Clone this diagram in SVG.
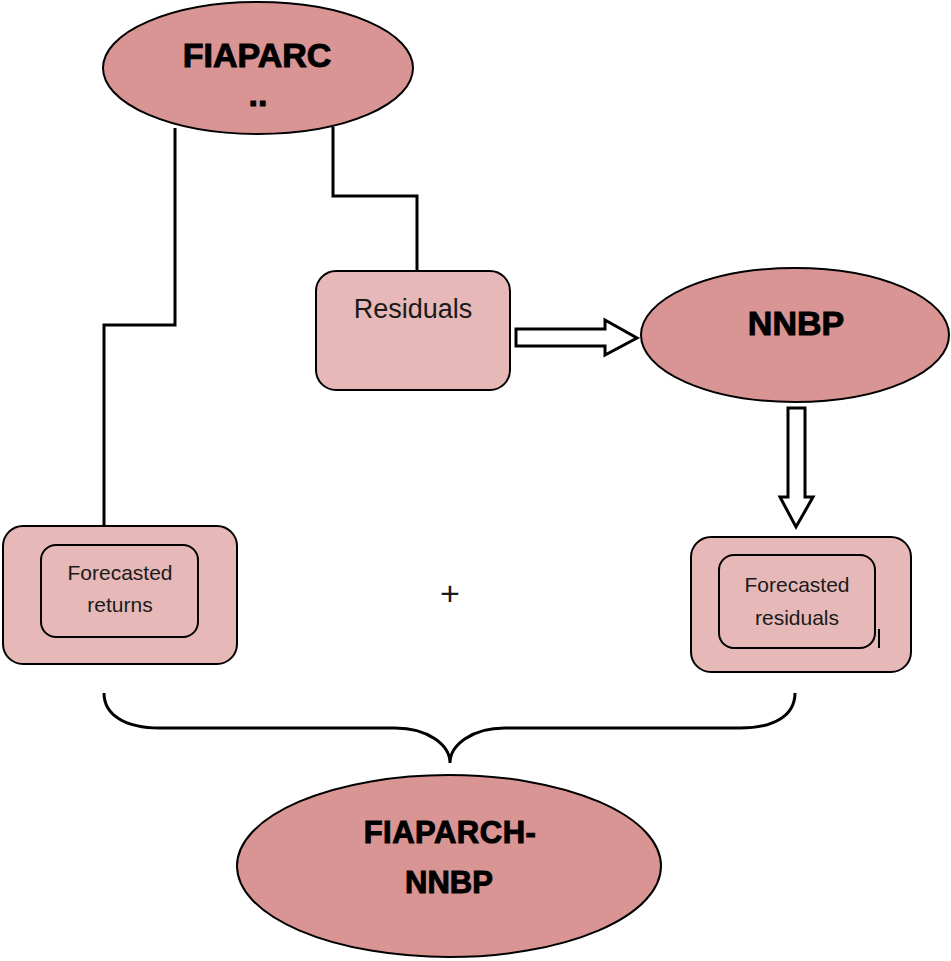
<svg xmlns="http://www.w3.org/2000/svg" width="951" height="961" viewBox="0 0 951 961">
<style>
.ell{fill:#D99594;stroke:#000;stroke-width:2}
.box{fill:#E6B8B7;stroke:#000;stroke-width:2}
.bold{font-family:"Liberation Sans",Arial,sans-serif;font-weight:bold;fill:#000;stroke:#000;stroke-width:1;text-anchor:middle}
.reg{font-family:"Liberation Sans",Arial,sans-serif;fill:#1a1a1a;text-anchor:middle}
.line{fill:none;stroke:#000;stroke-width:3}
.blk{fill:#fff;stroke:#000;stroke-width:3;stroke-linejoin:miter}
</style>
<rect width="951" height="961" fill="#fff"/>
<g id="connectors">
<polyline class="line" points="175,128 175,325 104,325 104,525"/>
<polyline class="line" points="333,127 333,196 417,196 417,271"/>
<polygon class="blk" points="516,329 605,329 605,320 637,338 605,355 605,346 516,346"/>
<polygon class="blk" points="788,408 805,408 805,497 813,497 796,527 780,497 788,497"/>
<path class="line" d="M104,693 C104,715 125,728 160,728 L395,728 C428,728 450,745 450,763 C450,745 472,728 505,728 L740,728 C775,728 795,715 795,693"/>
</g>
<g id="fiaparc">
<ellipse class="ell" cx="258" cy="68" rx="155" ry="66"/>
<text class="bold" x="257" y="67" font-size="34">FIAPARC</text>
<text class="bold" x="258" y="106" font-size="34">..</text>
</g>
<g id="residuals">
<rect class="box" x="316" y="271" width="194" height="119" rx="20"/>
<text class="reg" x="413" y="318" font-size="27">Residuals</text>
</g>
<g id="nnbp">
<ellipse class="ell" cx="795" cy="335" rx="154" ry="67"/>
<text class="bold" x="796" y="335" font-size="34">NNBP</text>
</g>
<g id="forecasted-returns">
<rect class="box" x="3" y="526" width="234" height="138" rx="20"/>
<rect class="box" x="41" y="545" width="157" height="92" rx="15"/>
<text class="reg" x="120" y="580" font-size="21">Forecasted</text>
<text class="reg" x="120" y="612" font-size="21">returns</text>
</g>
<g id="plus">
<text class="reg" x="450" y="605" font-size="34">+</text>
</g>
<g id="forecasted-residuals">
<rect class="box" x="691" y="537" width="220" height="135" rx="20"/>
<rect class="box" x="719" y="555" width="156" height="93" rx="15"/>
<text class="reg" x="797" y="592" font-size="21">Forecasted</text>
<text class="reg" x="797" y="625" font-size="21">residuals</text>
<line x1="879" y1="629" x2="879" y2="648" stroke="#000" stroke-width="2"/>
</g>
<g id="fiaparch-nnbp">
<ellipse class="ell" cx="449" cy="866" rx="212" ry="91"/>
<text class="bold" x="450" y="843" font-size="31" letter-spacing="0.5">FIAPARCH-</text>
<text class="bold" x="449" y="893" font-size="31">NNBP</text>
</g>
</svg>
